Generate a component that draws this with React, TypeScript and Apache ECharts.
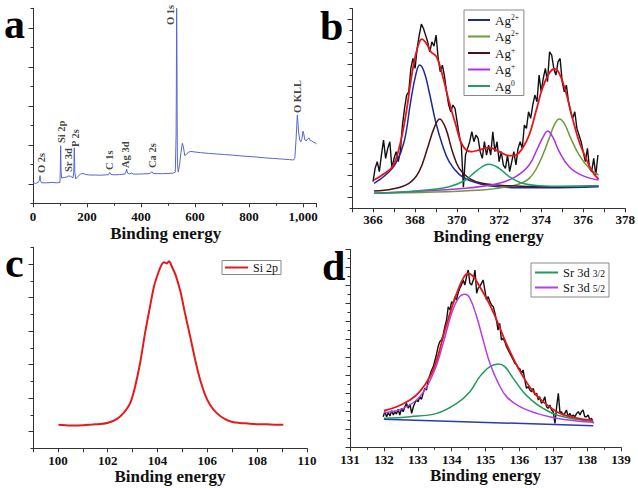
import React, { useEffect, useRef } from 'react';
import * as echarts from 'echarts';

const FONT = "'Liberation Serif', 'Times New Roman', serif";

// ---------- Panel a: survey spectrum ----------
const aEnergy = [0,10,20,24,26,28,32,50,70,90,100,101,102.5,104,106,115,125,132,140,148,151,153,155,158,165,175,185,195,210,230,250,270,280,284,286,289,300,320,340,344,347,350,358,366,370,390,410,430,438,441,445,460,480,500,520,527,530,531,532,533,534,535,538,542,548,553,557,562,568,575,585,600,620,650,680,710,740,770,800,830,860,890,920,950,965,970,974,977,979,981,984,988,992,996,1000,1003,1007,1012,1017,1022,1027,1033,1040,1045,1050];
const aIntensity = [1.05,1.02,1.08,1.2,1.42,1.15,1.05,1.05,1.07,1.05,1.07,1.6,2.95,1.6,1.3,1.32,1.35,1.4,1.38,1.3,1.6,2.85,1.6,1.25,1.35,1.5,1.53,1.48,1.45,1.45,1.44,1.46,1.47,1.58,1.6,1.48,1.46,1.47,1.5,1.6,1.75,1.55,1.5,1.56,1.5,1.5,1.51,1.52,1.58,1.62,1.53,1.52,1.52,1.53,1.55,1.6,3.5,6,10,8,4,2.0,1.6,1.9,2.6,3.08,2.9,2.45,2.5,2.62,2.66,2.63,2.6,2.56,2.53,2.5,2.47,2.43,2.4,2.37,2.33,2.3,2.27,2.24,2.22,2.35,3.2,4.0,4.53,4.2,3.6,3.25,3.15,3.3,3.7,3.55,3.25,3.2,3.3,3.35,3.22,3.2,3.12,3.1,3.05];
const aPeakNames = ['O 2s', 'Si 2p', 'Sr 3d', 'P 2s', 'C 1s', 'Ag 3d', 'Ca 2s', 'O 1s', 'O KLL'];
const aPeakX = [33, 107, 130, 159, 285, 344, 441, 511, 978];
const aPeakY = [1.55, 3.09, 1.6, 2.89, 1.71, 1.81, 1.81, 9.14, 4.63];

// ---------- Panel b: Ag 3d ----------
const bRawX = [366.0,366.1,366.2,366.3,366.4,366.5,366.6,366.7,366.8,366.9,367.0,367.1,367.2,367.3,367.4,367.5,367.6,367.7,367.8,367.9,368.0,368.1,368.2,368.3,368.4,368.5,368.6,368.7,368.8,368.9,369.0,369.1,369.2,369.3,369.4,369.5,369.6,369.7,369.8,369.9,370.0,370.1,370.2,370.3,370.4,370.5,370.6,370.7,370.8,370.9,371.0,371.1,371.2,371.3,371.4,371.5,371.6,371.7,371.8,371.9,372.0,372.1,372.2,372.3,372.4,372.5,372.6,372.7,372.8,372.9,373.0,373.1,373.2,373.3,373.4,373.5,373.6,373.7,373.8,373.9,374.0,374.1,374.2,374.3,374.4,374.5,374.6,374.7,374.8,374.9,375.0,375.1,375.2,375.3,375.4,375.5,375.6,375.7,375.8,375.9,376.0,376.1,376.2,376.3,376.4,376.5,376.6,376.7];
const bRawY = [2.4,3.6,4.2,3.3,4.8,6.15,4.5,5.4,6.0,3.6,4.5,5.1,4.2,5.1,7.5,9.0,10.2,10.5,12.6,13.5,12.6,14.4,15.6,16.6,16.2,15.6,15.0,14.1,15.0,14.6,15.6,13.5,12.3,12.9,11.9,10.5,9.3,8.7,9.3,9.0,7.8,6.6,5.7,1.9,4.8,5.4,6.0,6.9,6.0,6.6,6.3,5.1,4.5,6.0,4.8,5.7,4.8,6.9,5.1,6.0,4.2,5.1,3.9,3.6,4.8,3.3,4.2,5.1,3.9,5.4,6.0,5.4,7.5,7.2,8.7,8.1,9.3,10.2,9.6,12.0,10.5,11.7,12.6,11.4,14.1,13.8,12.6,12.0,13.2,13.5,11.4,10.5,11.1,9.6,8.7,8.1,8.7,7.2,6.6,6.0,5.1,4.2,5.4,3.6,3.3,4.5,3.0,4.8];
const bEnvelope = [[366.05,2.55],[366.44,3.0],[366.92,3.75],[367.24,5.41],[367.56,8.41],[367.87,12.31],[368.11,14.41],[368.32,15.25],[368.54,14.86],[368.75,14.11],[369.02,13.66],[369.3,12.01],[369.62,9.6],[369.94,7.5],[370.25,5.7],[370.65,5.1],[371.05,5.25],[371.52,5.46],[372.0,5.1],[372.48,4.74],[372.79,4.8],[373.11,5.41],[373.43,6.6],[373.75,8.71],[374.06,10.81],[374.38,12.16],[374.62,12.55],[374.86,12.16],[375.17,10.5],[375.49,8.1],[375.81,6.0],[376.13,4.5],[376.44,3.3],[376.73,2.64]];
const bAg2a = [[366.05,2.25],[366.6,3.0],[367.08,4.05],[367.48,6.0],[367.79,9.6],[368.03,12.0],[368.22,12.9],[368.43,12.3],[368.67,10.5],[368.98,7.8],[369.3,5.7],[369.62,4.2],[370.1,3.06],[370.73,2.4],[371.52,2.04],[372.79,1.86],[374.38,1.86],[376.73,1.95]];
const bAg2b = [[366.05,1.35],[371.2,1.65],[372.79,2.1],[373.43,2.7],[373.9,4.05],[374.38,6.3],[374.62,7.5],[374.86,8.05],[375.1,7.66],[375.41,6.3],[375.81,4.8],[376.29,3.6],[376.73,3.0]];
const bAg1a = [[366.05,1.56],[366.92,1.74],[367.71,2.25],[368.19,3.3],[368.59,5.41],[368.9,7.2],[369.17,8.05],[369.46,7.2],[369.78,5.1],[370.1,3.6],[370.57,2.7],[371.2,2.25],[372.32,2.04],[374.38,1.95],[376.73,2.04]];
const bAg1b = [[366.05,1.35],[370.41,1.8],[372.0,2.25],[372.79,2.85],[373.43,3.9],[373.83,5.41],[374.14,6.6],[374.3,6.96],[374.54,6.45],[374.86,5.1],[375.33,3.75],[375.97,2.94],[376.73,2.55]];
const bAg0 = [[366.05,1.35],[368.03,1.56],[369.62,1.95],[370.41,2.55],[370.97,3.45],[371.52,3.96],[372.0,3.6],[372.48,2.85],[373.11,2.25],[373.9,2.04],[375.17,1.98],[376.73,2.04]];
const bNames = ['Ag2+ 3d5/2', 'Ag2+ 3d3/2', 'Ag+ 3d5/2', 'Ag+ 3d3/2', 'Ag0 3d'];
const bLegendText = ['{m|Ag}{s|2+}', '{m|Ag}{s|2+}', '{m|Ag}{s|+}', '{m|Ag}{s|+}', '{m|Ag}{s|0}'];

// ---------- Panel c: Si 2p ----------
const cSi2p = [[100.02,1.4],[100.5,1.36],[101.02,1.37],[101.4,1.42],[101.69,1.45],[102.02,1.53],[102.36,1.74],[102.63,2.1],[102.9,2.7],[103.1,3.69],[103.3,5.09],[103.5,6.89],[103.7,8.48],[103.86,9.68],[104.03,10.48],[104.17,10.98],[104.26,11.11],[104.37,11.04],[104.46,11.17],[104.57,10.87],[104.74,10.28],[104.93,9.28],[105.1,8.08],[105.31,6.68],[105.51,5.29],[105.71,4.09],[105.91,3.19],[106.11,2.59],[106.38,2.1],[106.71,1.74],[107.05,1.56],[107.71,1.47],[108.0,1.44],[108.38,1.43],[108.7,1.41],[109.05,1.4]];

// ---------- Panel d: Sr 3d ----------
const dRawX = [131.98,132.03,132.08,132.13,132.18,132.23,132.28,132.32,132.37,132.42,132.47,132.52,132.57,132.62,132.67,132.72,132.77,132.82,132.87,132.91,132.96,133.01,133.06,133.11,133.16,133.21,133.26,133.31,133.36,133.41,133.46,133.51,133.55,133.60,133.65,133.70,133.75,133.80,133.85,133.90,133.95,134.00,134.05,134.10,134.14,134.19,134.24,134.29,134.34,134.39,134.44,134.49,134.54,134.59,134.64,134.69,134.74,134.78,134.83,134.88,134.93,134.98,135.03,135.08,135.13,135.18,135.23,135.28,135.33,135.37,135.42,135.47,135.52,135.57,135.62,135.67,135.72,135.77,135.82,135.87,135.92,135.97,136.01,136.06,136.11,136.16,136.21,136.26,136.31,136.36,136.41,136.46,136.51,136.56,136.60,136.65,136.70,136.75,136.80,136.85,136.90,136.95,137.00,137.05,137.10,137.15,137.20,137.24,137.29,137.34,137.39,137.44,137.49,137.54,137.59,137.64,137.69,137.74,137.79,137.83,137.88,137.93,137.98,138.03,138.08,138.13,138.18];
const dRawY = [3.40,3.96,3.40,3.85,3.48,4.07,3.59,3.96,3.70,4.22,3.59,4.33,3.96,4.51,4.88,4.33,4.81,3.77,4.51,4.88,5.25,5.07,5.63,5.33,6.00,6.55,6.37,7.48,8.03,8.59,8.96,9.70,10.25,11.18,11.74,11.92,12.48,13.40,14.14,15.62,15.25,16.18,16.00,16.74,16.37,17.11,17.66,18.03,18.59,18.03,18.96,19.70,18.22,18.03,18.59,19.70,17.11,17.66,17.85,18.22,18.59,17.48,16.37,16.74,16.18,15.81,15.62,14.88,13.96,13.03,13.77,11.92,12.11,11.74,11.18,10.81,10.44,10.07,9.70,9.33,9.14,8.77,8.77,8.22,8.59,7.48,6.55,6.74,6.37,6.18,6.55,5.81,6.00,5.25,5.63,4.88,5.07,5.63,4.51,4.33,4.70,4.14,3.96,2.66,4.51,6.00,3.77,3.96,3.59,3.77,4.14,3.40,3.77,3.40,3.59,3.40,3.77,3.96,3.59,3.96,4.14,3.40,3.40,3.59,3.03,3.22,2.66];
const dEnvelope = [[132.0,4.07],[132.38,4.51],[132.77,5.26],[133.06,6.18],[133.36,7.85],[133.56,9.7],[133.75,12.29],[133.95,14.88],[134.15,17.1],[134.34,18.77],[134.49,19.33],[134.64,18.96],[134.83,17.85],[135.08,16.18],[135.33,14.14],[135.57,11.92],[135.82,9.88],[136.11,7.85],[136.41,6.18],[136.7,5.07],[137.1,3.96],[137.49,3.4],[137.88,3.11],[138.18,3.03]];
const dSr52 = [[132.0,3.85],[132.57,4.33],[133.06,5.63],[133.46,8.22],[133.75,11.55],[134.0,14.88],[134.2,16.55],[134.39,17.0],[134.54,16.55],[134.74,14.51],[134.93,11.92],[135.13,9.33],[135.38,7.11],[135.62,5.63],[136.01,4.51],[136.51,3.77],[137.1,3.22],[137.69,2.92],[138.18,2.77]];
const dSr32 = [[132.0,3.22],[132.77,3.4],[133.56,3.77],[134.15,4.88],[134.54,6.18],[134.83,7.85],[135.13,8.96],[135.38,9.26],[135.57,8.96],[135.82,7.66],[136.11,6.18],[136.41,5.07],[136.7,4.33],[137.1,3.59],[137.69,3.11],[138.18,2.85]];
const dBaseline = [[132.0,3.11],[138.18,2.4]];
const dNames = ['Sr 3d 3/2', 'Sr 3d 5/2'];
const dLegendText = ['{m|Sr 3d }{s|3/2}', '{m|Sr 3d }{s|5/2}'];

const AXIS_COLOR = '#333';
const TEXT_COLOR = '#111';

function xAxisOf(gridIndex: number, min: number, max: number, interval: number, nameGap: number, margin: number, extra: any = {}) {
  return {
    type: 'value', gridIndex, min, max, interval,
    name: 'Binding energy', nameLocation: 'middle', nameGap,
    nameTextStyle: { fontFamily: FONT, fontWeight: 'bold', fontSize: 17, color: TEXT_COLOR, ...(extra.namePadding ? { padding: extra.namePadding } : {}) },
    axisLine: { show: true, onZero: false, lineStyle: { color: AXIS_COLOR, width: 1 } },
    axisTick: { show: true, length: 4, lineStyle: { color: AXIS_COLOR } },
    minorTick: extra.minor ? { show: true, splitNumber: 2, length: 2.5, lineStyle: { color: AXIS_COLOR } } : { show: false },
    axisLabel: {
      show: true, margin, fontFamily: FONT, fontWeight: 'bold', fontSize: 13, color: TEXT_COLOR,
      showMaxLabel: extra.showMaxLabel !== false ? undefined : false,
      ...(extra.evenOnly ? { formatter: (v: number) => (Math.round(v) % 2 === 0 ? String(v) : '') } : {}),
    },
    splitLine: { show: false }, minorSplitLine: { show: false },
  };
}

function yAxisOf(gridIndex: number, max: number, majorLen: number, minorLen: number) {
  return {
    type: 'value', gridIndex, min: 0, max, interval: 2,
    axisLine: { show: true, onZero: false, lineStyle: { color: AXIS_COLOR, width: 1 } },
    axisTick: { show: true, length: majorLen, lineStyle: { color: AXIS_COLOR } },
    minorTick: { show: true, splitNumber: 2, length: minorLen, lineStyle: { color: AXIS_COLOR } },
    axisLabel: { show: false },
    splitLine: { show: false }, minorSplitLine: { show: false },
  };
}

const line = (name: string, xi: number, data: any[], color: string, width: number, smooth: number | boolean = false, z = 2) => ({
  type: 'line', name, xAxisIndex: xi, yAxisIndex: xi, data, showSymbol: false, symbol: 'none', smooth,
  lineStyle: { color, width }, itemStyle: { color }, z, silent: true,
});

const letter = (text: string, x: number, y: number) => ({
  type: 'text', x, y,
  style: { text, font: `bold 42px ${FONT}`, fill: '#000', verticalAlign: 'top', lineHeight: 40 },
});

function buildOption() {
  const legendCommon = {
    orient: 'vertical', icon: 'rect', itemHeight: 2, borderColor: '#888', borderWidth: 1,
    backgroundColor: '#fff', borderRadius: 0, selectedMode: false,
  };
  const bColors = ['#1c2a96', '#6c9a3c', '#4a1212', '#b030e8', '#18a066'];
  return {
    animation: false,
    backgroundColor: '#fff',
    grid: [
      { left: 33, top: 8.3, width: 283.5, height: 195 },
      { left: 352, top: 8.5, width: 274.3, height: 199.8 },
      { left: 33, top: 247.3, width: 274, height: 201 },
      { left: 350, top: 249.3, width: 271, height: 198 },
    ],
    xAxis: [
      xAxisOf(0, 0, 1050, 200, 22, 7, { minor: true, showMaxLabel: false, namePadding: [0, 18, 0, 0] }),
      xAxisOf(1, 365, 378, 1, 20, 5, { evenOnly: true }),
      xAxisOf(2, 99, 110, 1, 17, 6, { evenOnly: true }),
      xAxisOf(3, 131, 139, 1, 20, 6, { minor: true }),
    ],
    yAxis: [
      yAxisOf(0, 10, 2.5, 4.5),
      yAxisOf(1, 18, 2.5, 4.5),
      yAxisOf(2, 12, 2.5, 4.5),
      yAxisOf(3, 22, 4.5, 2.5),
    ],
    legend: [
      {
        ...legendCommon, data: bNames, left: 464, top: 10, itemWidth: 22, itemGap: 3, padding: [3, 5, 3, 4],
        formatter: (n: string) => bLegendText[bNames.indexOf(n)],
        textStyle: {
          fontFamily: FONT, color: TEXT_COLOR,
          rich: {
            m: { fontFamily: FONT, fontSize: 13, color: TEXT_COLOR, lineHeight: 14 },
            s: { fontFamily: FONT, fontSize: 7.5, color: TEXT_COLOR, lineHeight: 8, verticalAlign: 'top' },
          },
        },
      },
      {
        ...legendCommon, data: ['Si 2p'], left: 222, top: 260.5, itemWidth: 23, itemGap: 2, padding: [1, 3, 1, 3],
        textStyle: { fontFamily: FONT, fontSize: 12, color: TEXT_COLOR, lineHeight: 12 },
      },
      {
        ...legendCommon, data: dNames, left: 531, top: 263, itemWidth: 23, itemGap: 2, padding: [3, 4, 3, 4],
        formatter: (n: string) => dLegendText[dNames.indexOf(n)],
        textStyle: {
          fontFamily: FONT, color: TEXT_COLOR,
          rich: {
            m: { fontFamily: FONT, fontSize: 12.5, color: TEXT_COLOR, lineHeight: 13 },
            s: { fontFamily: FONT, fontSize: 9.5, color: TEXT_COLOR, lineHeight: 10, verticalAlign: 'bottom' },
          },
        },
      },
    ],
    graphic: [
      letter('a', 4, 4),
      letter('b', 320, 6),
      letter('c', 5, 243),
      letter('d', 322, 246),
    ],
    series: [
      line('Survey', 0, aEnergy.map((x, i) => [x, aIntensity[i]]), '#5566d4', 1),
      {
        type: 'scatter', name: 'peaks', xAxisIndex: 0, yAxisIndex: 0, symbolSize: 1, silent: true,
        itemStyle: { color: 'rgba(0,0,0,0)' },
        data: aPeakNames.map((n, i) => ({ name: n, value: [aPeakX[i], aPeakY[i]] })),
        label: {
          show: true, position: 'inside', rotate: 90, align: 'left', verticalAlign: 'middle', formatter: '{b}',
          fontFamily: FONT, fontWeight: 'bold', fontSize: 10.5, color: TEXT_COLOR,
        },
      },
      line('b raw', 1, bRawX.map((x, i) => [x, bRawY[i]]), '#111', 1.4, false, 2),
      line(bNames[0], 1, bAg2a, bColors[0], 1.5, 0.4, 3),
      line(bNames[1], 1, bAg2b, bColors[1], 1.5, 0.4, 3),
      line(bNames[2], 1, bAg1a, bColors[2], 1.5, 0.4, 3),
      line(bNames[3], 1, bAg1b, bColors[3], 1.5, 0.4, 3),
      line(bNames[4], 1, bAg0, bColors[4], 1.5, 0.4, 3),
      line('b fit', 1, bEnvelope, '#e8141b', 1.8, 0.4, 4),
      line('Si 2p', 2, cSi2p, '#e41a1c', 2, 0.3, 3),
      line('d raw', 3, dRawX.map((x, i) => [x, dRawY[i]]), '#111', 1.4, false, 2),
      line('d baseline', 3, dBaseline, '#2a3ab0', 1.5, false, 3),
      line(dNames[0], 3, dSr32, '#1e9a5a', 1.5, 0.4, 3),
      line(dNames[1], 3, dSr52, '#b040e8', 1.5, 0.4, 3),
      line('d fit', 3, dEnvelope, '#e8141b', 1.8, 0.4, 4),
    ],
  };
}

export default function App() {
  const ref = useRef<HTMLDivElement>(null);
  useEffect(() => {
    document.body.style.margin = '0';
    const chart = echarts.init(ref.current as HTMLDivElement, null, { renderer: 'svg' });
    chart.setOption(buildOption() as any);
    return () => chart.dispose();
  }, []);
  return <div ref={ref} style={{ width: 638, height: 488 }} />;
}
